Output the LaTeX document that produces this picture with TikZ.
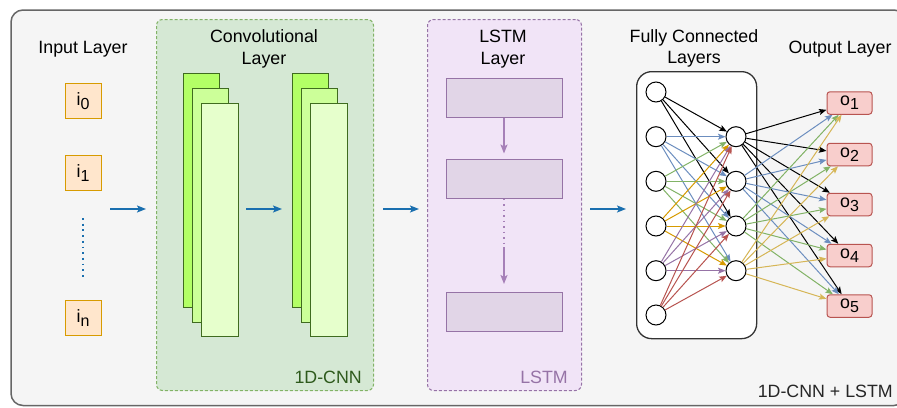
\documentclass[tikz,border=0pt]{standalone}
\usepackage{fontspec}
\setmainfont{Liberation Sans}
\usetikzlibrary{arrows.meta}
\definecolor{outerc}{HTML}{666666}
\definecolor{bgc}{HTML}{F5F5F5}
\definecolor{cnnfill}{HTML}{D5E8D4}
\definecolor{cnnline}{HTML}{82B366}
\definecolor{cnntext}{HTML}{2E5A1C}
\definecolor{convA}{HTML}{B3FF66}
\definecolor{convB}{HTML}{CCFF99}
\definecolor{convC}{HTML}{E6FFCC}
\definecolor{convline}{HTML}{3F6B1F}
\definecolor{lstmfill}{HTML}{F1E4F7}
\definecolor{lstmline}{HTML}{9673A6}
\definecolor{lstmbox}{HTML}{E1D5E7}
\definecolor{lstmarrow}{HTML}{A680B8}
\definecolor{mainblue}{HTML}{1A6FAF}
\definecolor{infill}{HTML}{FFE6CC}
\definecolor{inline}{HTML}{D79B00}
\definecolor{outfill}{HTML}{F8CECC}
\definecolor{outline}{HTML}{B85450}
\definecolor{ecblue}{HTML}{6C8EBF}
\definecolor{ecgreen}{HTML}{82B366}
\definecolor{ecorange}{HTML}{D79B00}
\definecolor{ecpurple}{HTML}{9673A6}
\definecolor{ecred}{HTML}{B85450}
\definecolor{ecyellow}{HTML}{D6B656}
\newcommand\lowidx[1]{\raisebox{-4pt}{\fontsize{16}{16}\selectfont #1}}
\begin{document}
\begin{tikzpicture}[x=1pt,y=-1pt,
  font=\fontsize{17.8}{21.4}\selectfont,
  lbl/.style={anchor=base,inner sep=0pt,align=center},
  inbox/.style={draw=inline,fill=infill,line width=1pt,minimum width=36pt,minimum height=35pt,inner sep=0pt},
  outbox/.style={draw=outline,fill=outfill,line width=1pt,rounded corners=3pt,minimum width=45pt,minimum height=22.5pt,inner sep=0pt},
  convbox/.style={draw=convline,line width=1pt,minimum width=36pt,minimum height=234pt,inner sep=0pt,anchor=north west},
  lstmcell/.style={draw=lstmline,fill=lstmbox,line width=1pt,minimum width=116pt,minimum height=39pt,inner sep=0pt},
  neuron/.style={circle,draw=black,fill=white,line width=1pt,minimum size=20pt,inner sep=0pt},
  mainarrow/.style={draw=mainblue,line width=1.6pt,-{Stealth[length=9pt,width=7pt,inset=2pt]}},
  lstmarr/.style={draw=lstmarrow,line width=1.6pt,-{Stealth[length=9pt,width=7pt,inset=2pt]}},
  fcedge/.style={line width=1pt,-{Stealth[length=7.5pt,width=6pt,inset=1.5pt]}},
]
\useasboundingbox (0,0) rectangle (897,407);
% outer frame
\draw[draw=outerc,fill=bgc,line width=1.5pt,rounded corners=12pt] (11,10) rectangle (906,405.5);

% containers
\node[draw=cnnline,fill=cnnfill,dash pattern=on 3pt off 2pt,line width=1pt,rounded corners=6pt,
  minimum width=217pt,minimum height=371pt,anchor=north west,inner sep=0pt] (cnn) at (156,19) {};
\node[draw=lstmline,fill=lstmfill,dash pattern=on 3pt off 2pt,line width=1pt,rounded corners=6pt,
  minimum width=154pt,minimum height=371pt,anchor=north west,inner sep=0pt] (lstm) at (427,19) {};
\node[draw=black!80,fill=white,line width=1.3pt,rounded corners=15pt,
  minimum width=120pt,minimum height=267pt,anchor=north west,inner sep=0pt] (fc) at (636,71) {};

% titles (base = baseline of last line)
\node[lbl] (tin) at (83,53.3) {Input Layer};
\node[lbl] (tconv) at (264,64.3) {Convolutional\\Layer};
\node[lbl] (tlstm) at (503,64.3) {LSTM\\Layer};
\node[lbl] (tfc) at (694,63.6) {Fully Connected\\Layers};
\node[lbl] (tout) at (840,53.3) {Output Layer};
\node[anchor=base east,inner sep=0pt,text=cnntext] (tcnn) at (362,383.3) {1D-CNN};
\node[anchor=base east,inner sep=0pt,text=lstmline] (tl) at (568,383.3) {LSTM};
\node[anchor=base east,inner sep=0pt,text=black!85] (tall) at (893,397.3) {1D-CNN + LSTM};

% input layer
\node[inbox] (i0) at (83,101) {i\lowidx{0}};
\node[inbox] (i1) at (83,173) {i\lowidx{1}};
\node[inbox] (in) at (83,318) {i\lowidx{n}};
\coordinate (dtop) at (83,218);
\coordinate (dbot) at (83,278);
\draw[draw=mainblue,line width=1.8pt,dash pattern=on 1.8pt off 3.9pt] (dtop) -- (dbot);

% conv stacks
\node[convbox,fill=convA] (c1a) at (183,73) {};
\node[convbox,fill=convB] (c1b) at (192,88) {};
\node[convbox,fill=convC,minimum width=37pt,minimum height=233pt] (c1c) at (201,103) {};
\node[convbox,fill=convA] (c2a) at (292,73) {};
\node[convbox,fill=convB] (c2b) at (301,88) {};
\node[convbox,fill=convC,minimum width=37pt,minimum height=233pt] (c2c) at (310,103) {};

% lstm cells
\node[lstmcell] (l1) at (504,97.5) {};
\node[lstmcell] (l2) at (504,178.5) {};
\node[lstmcell] (l3) at (504,312) {};
\draw[lstmarr,shorten >=5pt] (l1.south) -- (l2.north);
\coordinate (lmid) at (504,247);
\draw[draw=lstmarrow,line width=1.5pt,dash pattern=on 1.5pt off 4pt] (l2.south) -- (lmid);
\draw[lstmarr,shorten >=8pt] (lmid) -- (l3.north);

% main arrows
\coordinate (a1s) at (110,209); \coordinate (a1e) at (146,209);
\coordinate (a2s) at (246,209); \coordinate (a2e) at (282,209);
\coordinate (a3s) at (383,209); \coordinate (a3e) at (419,209);
\coordinate (a4s) at (590,209); \coordinate (a4e) at (626,209);
\draw[mainarrow] (a1s) -- (a1e);
\draw[mainarrow] (a2s) -- (a2e);
\draw[mainarrow] (a3s) -- (a3e);
\draw[mainarrow] (a4s) -- (a4e);

% fully connected neurons
\node[neuron] (L1) at (656,92) {};
\node[neuron] (L2) at (656,136.7) {};
\node[neuron] (L3) at (656,181.3) {};
\node[neuron] (L4) at (656,226) {};
\node[neuron] (L5) at (656,270.7) {};
\node[neuron] (L6) at (656,315) {};
\node[neuron] (R1) at (736,136.7) {};
\node[neuron] (R2) at (736,181.3) {};
\node[neuron] (R3) at (736,226) {};
\node[neuron] (R4) at (736,270.7) {};

\foreach \r in {1,2,3} \draw[fcedge,draw=black] (L1) -- (R\r);
\foreach \l/\c in {2/ecblue,3/ecgreen,4/ecorange,5/ecpurple,6/ecred}
  \foreach \r in {1,2,3,4} \draw[fcedge,draw=\c] (L\l) -- (R\r);

% output layer
\node[outbox] (o1) at (849.5,103) {o\lowidx{1}};
\node[outbox] (o2) at (849.5,154.5) {o\lowidx{2}};
\node[outbox] (o3) at (849.5,204.5) {o\lowidx{3}};
\node[outbox] (o4) at (849.5,255.5) {o\lowidx{4}};
\node[outbox] (o5) at (849.5,306) {o\lowidx{5}};

\foreach \r/\c in {1/black,2/ecblue,3/ecgreen,4/ecyellow}
  \foreach \o in {1,2,3,4,5} \draw[fcedge,draw=\c] (R\r) -- (o\o);
\end{tikzpicture}
\end{document}
